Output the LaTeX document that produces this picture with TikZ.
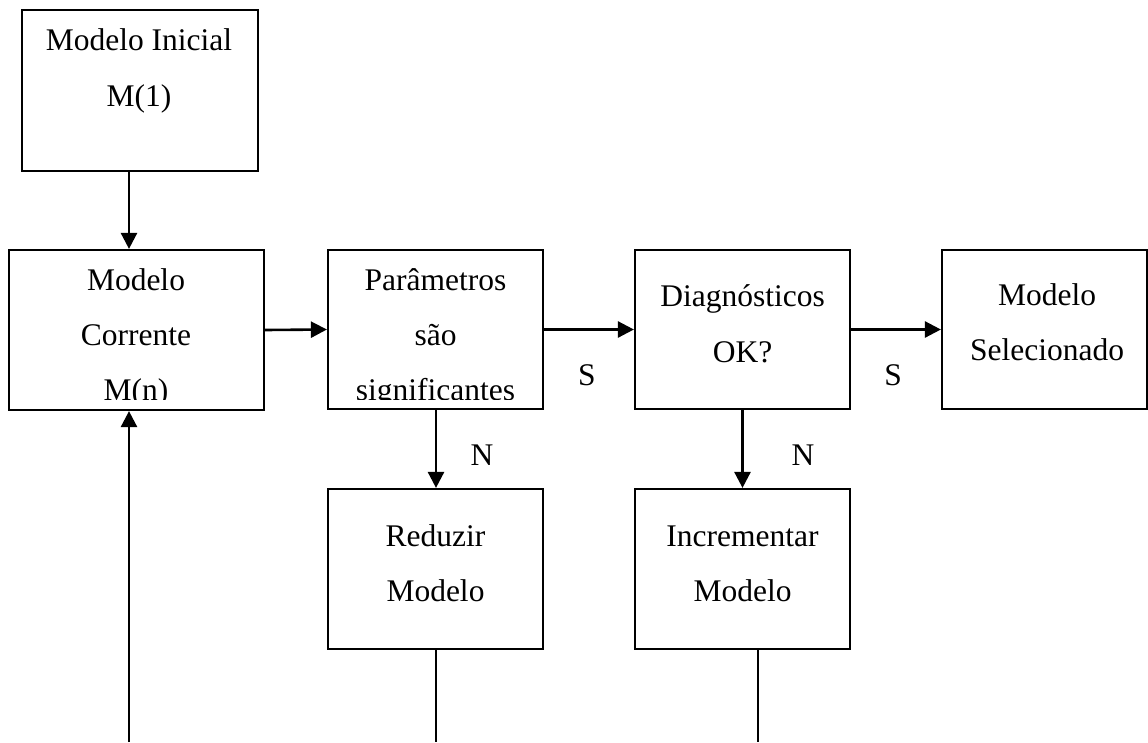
\documentclass[tikz,border=0pt]{standalone}
\usepackage{fontspec}
\setmainfont{Liberation Serif}
\usetikzlibrary{arrows.meta}
\begin{document}
\begin{tikzpicture}[x=1pt,y=-1pt,
  box/.style={draw, line width=2.2pt, inner sep=0pt},
  lbl/.style={anchor=base, inner sep=0pt, font=\fontsize{31.5}{38}\selectfont},
  arr/.style={line width=2.6pt, -{Triangle[length=16pt,width=16pt]}},
  ln/.style={line width=1.8pt}]
\useasboundingbox (0,0) rectangle (1148,742);
% boxes
\node[box, minimum width=236pt, minimum height=161pt] (ini) at (140,90.5) {};
\node[box, minimum width=255pt, minimum height=160pt] (cor) at (136.5,330) {};
\node[box, minimum width=215pt, minimum height=159pt] (par) at (435.5,329.5) {};
\node[box, minimum width=215pt, minimum height=159pt] (dia) at (742.5,329.5) {};
\node[box, minimum width=205pt, minimum height=159pt] (sel) at (1044.5,329.5) {};
\node[box, minimum width=215pt, minimum height=160pt] (red) at (435.5,569) {};
\node[box, minimum width=215pt, minimum height=160pt] (inc) at (742.5,569) {};
% texts
\node[lbl] (t1) at (139,50) {Modelo Inicial};
\node[lbl] (t2) at (139,106) {M(1)};
\begin{scope}
\clip (9,250) rectangle (264,399);
\node[lbl] (t3) at (136,290) {Modelo};
\node[lbl] (t4) at (136,345) {Corrente};
\node[lbl] (t5) at (136,400) {M(n)};
\end{scope}
\begin{scope}
\clip (328,250) rectangle (543,399);
\node[lbl] (t6) at (435.5,290) {Parâmetros};
\node[lbl] (t7) at (435.5,345) {são};
\node[lbl] (t8) at (435.5,400) {significantes};
\end{scope}
\node[lbl] (t9) at (742.5,306) {Diagnósticos};
\node[lbl] (t10) at (742.5,362) {OK?};
\node[lbl] (t11) at (1047,305) {Modelo};
\node[lbl] (t12) at (1047,360) {Selecionado};
\node[lbl] (t13) at (435.5,546) {Reduzir};
\node[lbl] (t14) at (435.5,601) {Modelo};
\node[lbl] (t15) at (742.5,546) {Incrementar};
\node[lbl] (t16) at (742.5,601) {Modelo};
% labels
\node[lbl] (s1) at (587,385) {S};
\node[lbl] (s2) at (893,385) {S};
\node[lbl] (n1) at (482,465) {N};
\node[lbl] (n2) at (803,465) {N};
% connectors
\coordinate (cA) at (129,742);
\coordinate (rB) at (436,742);
\coordinate (iB) at (758,742);
\draw[arr] (ini.south -| cA) -- (cor.north -| cA);
\draw[arr] (cA) -- (cor.south -| cA);
\draw[arr] (cor.east) -- (par.west);
\draw[arr] (par.east) -- (dia.west);
\draw[arr] (dia.east) -- (sel.west);
\draw[arr] (par.south -| rB) -- (red.north -| rB);
\draw[arr] (dia.south) -- (inc.north);
\draw[ln] (red.south -| rB) -- (rB);
\draw[ln] (inc.south -| iB) -- (iB);
\end{tikzpicture}
\end{document}
